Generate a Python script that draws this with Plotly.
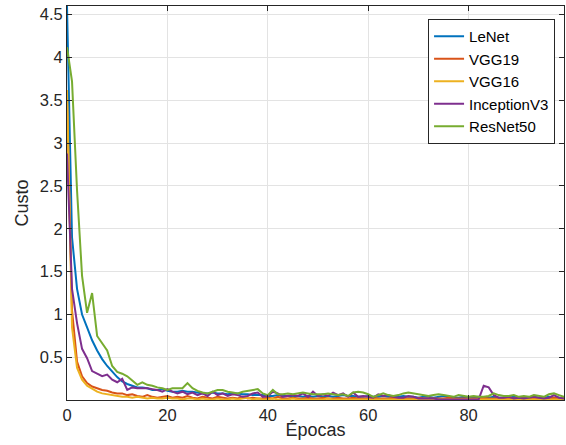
import plotly.graph_objects as go

epochs = list(range(100))

lenet = [4.6, 1.9, 1.3, 1.0, 0.85, 0.7, 0.58, 0.48, 0.4, 0.33,
         0.27, 0.22, 0.19, 0.17, 0.15, 0.15, 0.14, 0.12, 0.12, 0.13,
         0.11, 0.10, 0.10, 0.11, 0.10, 0.10, 0.09, 0.08, 0.08, 0.09,
         0.08, 0.08, 0.07, 0.08, 0.08, 0.07, 0.07, 0.06, 0.06, 0.06,
         0.05, 0.05, 0.06, 0.05, 0.05, 0.04, 0.05, 0.04, 0.05, 0.04,
         0.05, 0.04, 0.05, 0.04, 0.05, 0.06, 0.05, 0.05, 0.04, 0.04,
         0.05, 0.04, 0.04, 0.05, 0.04, 0.04, 0.04, 0.05, 0.04, 0.04,
         0.03, 0.04, 0.04, 0.03, 0.04, 0.05, 0.04, 0.03, 0.03, 0.04,
         0.03, 0.03, 0.04, 0.03, 0.03, 0.04, 0.03, 0.03, 0.03, 0.04,
         0.03, 0.03, 0.03, 0.04, 0.03, 0.03, 0.04, 0.03, 0.03, 0.03]

vgg19 = [3.55, 1.05, 0.45, 0.28, 0.20, 0.16, 0.14, 0.12, 0.11, 0.09,
         0.08, 0.08, 0.06, 0.07, 0.05, 0.04, 0.06, 0.04, 0.03, 0.04,
         0.05, 0.03, 0.04, 0.03, 0.05, 0.03, 0.02, 0.04, 0.03, 0.02,
         0.04, 0.03, 0.02, 0.03, 0.02, 0.04, 0.02, 0.03, 0.02, 0.02,
         0.03, 0.02, 0.04, 0.02, 0.02, 0.03, 0.02, 0.02, 0.03, 0.02,
         0.02, 0.03, 0.02, 0.02, 0.03, 0.02, 0.02, 0.03, 0.02, 0.02,
         0.02, 0.03, 0.02, 0.02, 0.02, 0.03, 0.02, 0.02, 0.02, 0.02,
         0.03, 0.02, 0.02, 0.02, 0.02, 0.02, 0.03, 0.02, 0.02, 0.02,
         0.02, 0.02, 0.02, 0.03, 0.02, 0.02, 0.02, 0.02, 0.02, 0.02,
         0.03, 0.02, 0.02, 0.02, 0.02, 0.02, 0.02, 0.03, 0.02, 0.02]

vgg16 = [3.62, 0.85, 0.38, 0.24, 0.17, 0.13, 0.10, 0.08, 0.07, 0.06,
         0.05, 0.04, 0.04, 0.03, 0.04, 0.03, 0.02, 0.03, 0.02, 0.02,
         0.03, 0.02, 0.02, 0.01, 0.02, 0.02, 0.01, 0.02, 0.01, 0.01,
         0.02, 0.01, 0.01, 0.02, 0.01, 0.02, 0.03, 0.01, 0.02, 0.01,
         0.01, 0.02, 0.01, 0.01, 0.01, 0.02, 0.01, 0.01, 0.01, 0.01,
         0.01, 0.01, 0.02, 0.01, 0.01, 0.01, 0.01, 0.01, 0.01, 0.01,
         0.01, 0.01, 0.01, 0.01, 0.01, 0.01, 0.01, 0.01, 0.01, 0.01,
         0.01, 0.01, 0.01, 0.01, 0.01, 0.01, 0.01, 0.01, 0.01, 0.01,
         0.01, 0.01, 0.01, 0.01, 0.01, 0.01, 0.01, 0.01, 0.01, 0.01,
         0.01, 0.01, 0.01, 0.01, 0.01, 0.01, 0.01, 0.01, 0.01, 0.01]

inceptionv3 = [2.88, 1.3, 0.9, 0.6, 0.49, 0.34, 0.31, 0.28, 0.30, 0.24,
               0.21, 0.25, 0.12, 0.15, 0.14, 0.14, 0.14, 0.13, 0.12, 0.10,
               0.13, 0.10, 0.08, 0.10, 0.07, 0.09, 0.06, 0.08, 0.05, 0.10,
               0.06, 0.08, 0.05, 0.07, 0.06, 0.04, 0.05, 0.08, 0.09, 0.04,
               0.05, 0.10, 0.08, 0.04, 0.05, 0.06, 0.05, 0.08, 0.04, 0.10,
               0.05, 0.07, 0.05, 0.09, 0.06, 0.08, 0.04, 0.09, 0.04, 0.05,
               0.04, 0.03, 0.07, 0.05, 0.06, 0.04, 0.03, 0.03, 0.05, 0.04,
               0.02, 0.02, 0.02, 0.02, 0.01, 0.01, 0.01, 0.01, 0.01, 0.01,
               0.01, 0.01, 0.01, 0.17, 0.15, 0.06, 0.03, 0.03, 0.04, 0.02,
               0.03, 0.02, 0.03, 0.04, 0.03, 0.02, 0.03, 0.06, 0.03, 0.02]

resnet50 = [4.12, 3.72, 2.45, 1.45, 1.02, 1.25, 0.75, 0.67, 0.58, 0.40,
            0.33, 0.31, 0.28, 0.23, 0.18, 0.21, 0.18, 0.17, 0.15, 0.14,
            0.12, 0.14, 0.14, 0.14, 0.20, 0.14, 0.11, 0.09, 0.08, 0.10,
            0.12, 0.12, 0.10, 0.09, 0.08, 0.10, 0.11, 0.12, 0.13, 0.08,
            0.06, 0.12, 0.07, 0.07, 0.08, 0.07, 0.08, 0.09, 0.08, 0.07,
            0.07, 0.07, 0.08, 0.07, 0.06, 0.07, 0.05, 0.09, 0.10, 0.09,
            0.07, 0.04, 0.06, 0.08, 0.06, 0.05, 0.06, 0.08, 0.09, 0.08,
            0.07, 0.06, 0.05, 0.06, 0.07, 0.06, 0.05, 0.04, 0.06, 0.05,
            0.04, 0.05, 0.04, 0.04, 0.05, 0.08, 0.06, 0.05, 0.05, 0.06,
            0.04, 0.05, 0.04, 0.06, 0.05, 0.04, 0.07, 0.08, 0.06, 0.04]

names = ["LeNet", "VGG19", "VGG16", "InceptionV3", "ResNet50"]
series = [lenet, vgg19, vgg16, inceptionv3, resnet50]
colors = ["#0072BD", "#D95319", "#EDB120", "#7E2F8E", "#77AC30"]

x_ticks = [0, 20, 40, 60, 80]
y_ticks = [0.5, 1, 1.5, 2, 2.5, 3, 3.5, 4, 4.5]
y_tick_text = ["0.5", "1", "1.5", "2", "2.5", "3", "3.5", "4", "4.5"]

fig = go.Figure()
for name, vals, col in zip(names, series, colors):
    fig.add_trace(go.Scatter(x=epochs, y=vals, mode="lines", name=name,
                             line=dict(color=col, width=2)))

FONT = "Liberation Sans, Arial, Helvetica, sans-serif"
axis_common = dict(showgrid=True, gridcolor="#e3e3e3", gridwidth=1,
                   showline=True, linecolor="#262626", linewidth=1, mirror="ticks",
                   ticks="inside", ticklen=5, tickcolor="#262626",
                   tickfont=dict(family=FONT, size=16.5, color="#262626"),
                   zeroline=False, automargin=False)

fig.update_layout(
    width=566, height=445,
    margin=dict(l=67, r=2, t=6, b=45, autoexpand=False),
    paper_bgcolor="white", plot_bgcolor="white",
    font=dict(family=FONT, color="#262626"),
    xaxis=dict(range=[0, 99], tickvals=x_ticks,
               title=dict(text="Épocas", font=dict(size=18, color="#262626"), standoff=0),
               **axis_common),
    yaxis=dict(range=[0.003, 4.6], tickvals=y_ticks, ticktext=y_tick_text,
               title=dict(text="Custo", font=dict(size=18, color="#262626"), standoff=6),
               **axis_common),
    legend=dict(x=0.982, y=0.967, xanchor="right", yanchor="top",
                bgcolor="white", bordercolor="#262626", borderwidth=1,
                font=dict(family=FONT, size=15, color="#000000"), tracegroupgap=0,
                itemwidth=30),
    showlegend=True,
)

fig.write_html("out.html", config={"displayModeBar": False},
               post_script="document.body.style.margin='0';document.body.style.padding='0';")
